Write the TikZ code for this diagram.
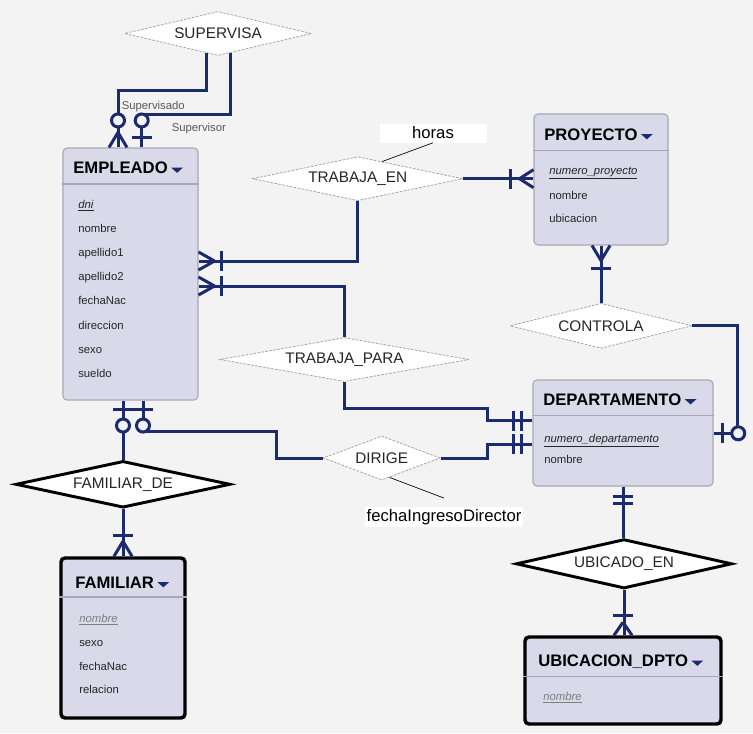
\documentclass[tikz,border=0pt]{standalone}
\usepackage{fontspec}
\setmainfont{Liberation Sans}
\usetikzlibrary{shapes.geometric}

\definecolor{navy}{HTML}{1C2A6E}
\definecolor{bg}{HTML}{F3F3F3}
\definecolor{entfill}{HTML}{D9D9EA}
\definecolor{entline}{HTML}{A8A8B4}

\newcommand{\ddtri}{\hspace{2.5pt}\tikz[baseline=0pt,x=1pt,y=1pt]\fill[navy] (0,4.5) -- (9,4.5) -- (4.5,0.5) -- cycle;}
\newcommand{\pkey}[1]{\underline{\textit{#1}}}
\newcommand{\wkey}[1]{\textcolor{black!50}{\underline{\textit{#1}}}}

\tikzset{
  entity/.style={rectangle, rounded corners=3pt, draw=entline, fill=entfill, line width=0.8pt, inner sep=0pt},
  weak/.style={entity, draw=black, line width=2.6pt},
  hdr/.style={draw=entline, line width=1.1pt},
  title/.style={anchor=base west, inner sep=0pt, font=\fontsize{12.5}{14}\selectfont\bfseries},
  attr/.style={anchor=base west, inner sep=0pt, font=\fontsize{8.5}{10}\selectfont, text=black!85},
  rel/.style={diamond, aspect=5, draw=black!35, dash pattern=on 2pt off 1pt, line width=0.6pt, fill=white,
    inner sep=0pt, font=\fontsize{11.5}{13}\selectfont, text=black!85},
  idrel/.style={rel, draw=black, solid, line width=2.2pt},
  link/.style={draw=navy, line width=2.25pt},
  note/.style={fill=white, inner sep=0pt, font=\fontsize{12.5}{14}\selectfont},
  role/.style={anchor=west, inner sep=0pt, font=\fontsize{8.5}{10}\selectfont, text=black!65},
  many/.pic={\draw[link] (#1,0) -- (0,-9) (#1,0) -- (0,9);},
  one/.pic={\draw[link] (#1,-10) -- (#1,10);},
  zero/.pic={\draw[link, fill=bg] (#1,0) circle[radius=6.5];},
}

\begin{document}
\begin{tikzpicture}[x=0.75pt, y=-0.75pt]
  \useasboundingbox (0,0) rectangle (753,733);
  \fill[bg] (0,0) rectangle (753,733);

  % entities
  \node[entity, minimum width=101.25pt, minimum height=189pt] (empleado) at (130.5,274) {};
  \draw[hdr] (empleado.west |- 0,184) -- (empleado.east |- 0,184);
  \node[title] (empleado-t) at (73,173.5) {EMPLEADO\ddtri};
  \node[attr] (emp-dni) at (78,208.5) {\pkey{dni}};
  \node[attr] (emp-nom) at (78,232.6) {nombre};
  \node[attr] (emp-ap1) at (78,256.7) {apellido1};
  \node[attr] (emp-ap2) at (78,280.8) {apellido2};
  \node[attr] (emp-fn) at (78,304.9) {fechaNac};
  \node[attr] (emp-dir) at (78,329) {direccion};
  \node[attr] (emp-sex) at (78,353.1) {sexo};
  \node[attr] (emp-sue) at (78,377.2) {sueldo};

  \node[entity, minimum width=100.5pt, minimum height=98.25pt] (proyecto) at (601,179.5) {};
  \draw[hdr] (proyecto.west |- 0,150.7) -- (proyecto.east |- 0,150.7);
  \node[title] (proyecto-t) at (544,140) {PROYECTO\ddtri};
  \node[attr] (pro-num) at (549,174.5) {\pkey{numero\_proyecto}};
  \node[attr] (pro-nom) at (549,199) {nombre};
  \node[attr] (pro-ubi) at (549,222) {ubicacion};

  \node[entity, minimum width=135pt, minimum height=79.5pt] (departamento) at (623,433) {};
  \draw[hdr] (departamento.west |- 0,415.7) -- (departamento.east |- 0,415.7);
  \node[title] (departamento-t) at (543,405) {DEPARTAMENTO\ddtri};
  \node[attr] (dep-num) at (544,442) {\pkey{numero\_departamento}};
  \node[attr] (dep-nom) at (544,463.5) {nombre};

  \node[weak, minimum width=93pt, minimum height=120pt] (familiar) at (123,638) {};
  \draw[hdr] (familiar.west |- 0,597) -- (familiar.east |- 0,597);
  \node[title] (familiar-t) at (75,588) {FAMILIAR\ddtri};
  \node[attr] (fam-nom) at (79,622) {\wkey{nombre}};
  \node[attr] (fam-sex) at (79,646) {sexo};
  \node[attr] (fam-fn) at (79,670) {fechaNac};
  \node[attr] (fam-rel) at (79,693.5) {relacion};

  \node[weak, minimum width=147pt, minimum height=65.25pt] (ubicacion) at (623,680.5) {};
  \draw[hdr] (ubicacion.west |- 0,676.7) -- (ubicacion.east |- 0,676.7);
  \node[title] (ubicacion-t) at (538,666.5) {UBICACION\_DPTO\ddtri};
  \node[attr] (ubi-nom) at (543,700) {\wkey{nombre}};

  % relationships
  \node[rel, minimum width=140.25pt, minimum height=33pt] (supervisa) at (218,33.5) {SUPERVISA};
  \node[rel, minimum width=157.5pt, minimum height=33pt] (trabajaen) at (357.7,178.7) {TRABAJA\_EN};
  \node[rel, minimum width=186.75pt, minimum height=33pt] (trabajapara) at (344.5,359.5) {TRABAJA\_PARA};
  \node[rel, minimum width=136.5pt, minimum height=33.75pt] (controla) at (601,325.8) {CONTROLA};
  \node[rel, minimum width=87.75pt, minimum height=33pt] (dirige) at (381.7,458) {DIRIGE};
  \node[idrel, minimum width=161pt, minimum height=35pt] (famde) at (123,484.3) {FAMILIAR\_DE};
  \node[idrel, minimum width=162pt, minimum height=37pt] (ubicadoen) at (624,563.8) {UBICADO\_EN};

  % attributes of relationships
  \node[note, minimum width=80.25pt, minimum height=14.25pt] (horas) at (433,133) {horas};
  \node[note, minimum width=118.5pt, minimum height=15pt] (fecha) at (444,517) {fechaIngresoDirector};
  \draw[line width=0.5pt] (trabajaen.35) -- (horas.south);
  \draw[line width=0.5pt] (dirige.-68) -- ([yshift=6.5pt]fecha.north);

  \node[role] (rol-a) at (121.5,106.5) {Supervisado};
  \node[role] (rol-b) at (171.5,129) {Supervisor};

  % end points
  \coordinate (sup-a) at (empleado.north -| 118,0);
  \coordinate (sup-b) at (empleado.north -| 141.7,0);
  \coordinate (te-e) at (empleado.east |- 0,261);
  \coordinate (te-p) at (proyecto.west |- trabajaen.east);
  \coordinate (tp-e) at (empleado.east |- 0,286);
  \coordinate (tp-d) at (departamento.west |- 0,420.7);
  \coordinate (di-d) at (departamento.west |- 0,444);
  \coordinate (di-e) at (empleado.south -| 143,0);
  \coordinate (fd-e) at (empleado.south -| famde.north);
  \coordinate (fd-f) at (familiar.north -| famde.south);
  \coordinate (co-d) at (departamento.east |- 0,433.3);

  \begin{scope}[link]
    \draw (supervisa.-120) |- (118,90) -- (sup-a);
    \draw (supervisa.-58) |- (141.7,114) -- (sup-b);
    \draw (trabajaen.south) |- (te-e);
    \draw (trabajaen.east) -- (te-p);
    \draw (trabajapara.north) |- (tp-e);
    \draw (trabajapara.south) |- (487,408) |- (tp-d);
    \draw (dirige.east) -| (487,444) -- (di-d);
    \draw (dirige.west) -| (276,431.5) -| (di-e);
    \draw (famde.north) -- (fd-e);
    \draw (famde.south) -- (fd-f);
    \draw (proyecto.south) -- (controla.north);
    \draw (controla.east) -| (737.7,433.3) -- (co-d);
    \draw (departamento.south) -- (departamento.south |- ubicadoen.north);
    \draw (ubicadoen.south) -- (ubicadoen.south |- ubicacion.north);
  \end{scope}

  \pic[rotate=90] at (sup-a) {many=15};
  \pic[rotate=90] at (sup-a) {zero=27};
  \pic[rotate=90] at (sup-b) {one=10};
  \pic[rotate=90] at (sup-b) {zero=27};
  \pic at (te-e) {many=16};
  \pic at (te-e) {one=23};
  \pic[rotate=180] at (te-p) {many=14};
  \pic[rotate=180] at (te-p) {one=23};
  \pic at (tp-e) {many=16};
  \pic at (tp-e) {one=23};
  \pic[rotate=180] at (tp-d) {one=11};
  \pic[rotate=180] at (tp-d) {one=19};
  \pic[rotate=180] at (di-d) {one=11};
  \pic[rotate=180] at (di-d) {one=19};
  \pic[rotate=-90] at (di-e) {one=9.3};
  \pic[rotate=-90] at (di-e) {zero=25};
  \pic[rotate=-90] at (fd-e) {one=9.3};
  \pic[rotate=-90] at (fd-e) {zero=25};
  \pic[rotate=90] at (fd-f) {many=15};
  \pic[rotate=90] at (fd-f) {one=21};
  \pic[rotate=-90] at (proyecto.south) {many=15};
  \pic[rotate=-90] at (proyecto.south) {one=23};
  \pic at (co-d) {one=9};
  \pic at (co-d) {zero=24.7};
  \pic[rotate=-90] at (departamento.south) {one=10};
  \pic[rotate=-90] at (departamento.south) {one=17.3};
  \pic[rotate=90] at (ubicacion.north) {many=13};
  \pic[rotate=90] at (ubicacion.north) {one=20};
\end{tikzpicture}
\end{document}
